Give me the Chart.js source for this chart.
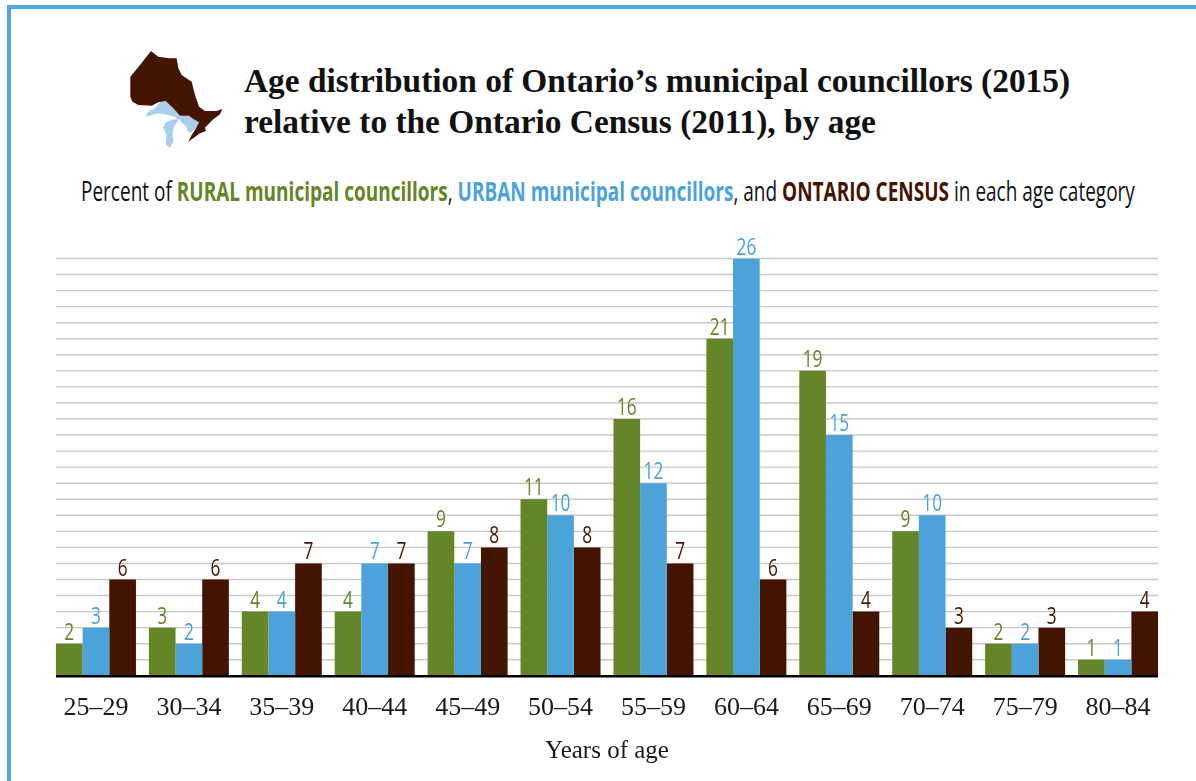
<!DOCTYPE html>
<html><head><meta charset="utf-8">
<script src="https://cdn.jsdelivr.net/npm/chart.js@4"></script>
<style>
html,body{margin:0;padding:0;background:#fff;overflow:hidden}
#wrap{position:relative;width:1196px;height:781px;overflow:hidden}
#frame{position:absolute;left:7px;top:5px;width:1189px;height:776px;border-left:4px solid #4fa6d8;border-top:4px solid #4fa6d8;box-sizing:border-box}
canvas{position:absolute;left:0;top:0}
#title{position:absolute;left:244px;top:60px;font:bold 33.4px/41px "Liberation Serif",serif;color:#111;white-space:nowrap}
#sub{position:absolute;left:81px;top:172px;font:700 27px/38px "Open Sans",sans-serif;color:#111;white-space:nowrap;transform-origin:0 0;transform:scaleX(.72)}
#sub .n{font-weight:400}
#map{position:absolute;left:125px;top:45px}
</style></head><body>
<div id="wrap">
<div id="frame"></div>
<svg id="map" width="105" height="105" viewBox="0 0 315 315">
<path fill="#a9cfec" d="M122 168 L145 190 L165 212 L192 212 L222 232 L212 250 L195 264 L187 258 L185 245 L172 234 L160 222 L140 224 L122 232 L114 248 L124 268 L122 298 L134 308 L145 292 L143 262 L147 245 L160 226 L150 216 L130 210 L100 205 L60 215 L70 200 L90 190 L105 172Z"/>
<path fill="#431500" d="M78 18 L100 35 L133 40 L155 40 L160 70 L170 90 L200 110 L210 150 L222 185 L240 198 L275 198 L292 192 L285 208 L262 225 L240 248 L243 258 L225 265 L190 290 L200 270 L210 255 L222 232 L205 222 L192 212 L165 212 L145 190 L122 168 L100 172 L80 182 L40 180 L22 170 L16 155 L16 95 L45 60Z"/>
</svg>
<div id="title">Age distribution of Ontario’s municipal councillors (2015)<br>relative to the Ontario Census (2011), by age</div>
<div id="sub"><span class="n">Percent of </span><span style="color:#668428">RURAL municipal councillors</span><span class="n">, </span><span style="color:#4ba3d9">URBAN municipal councillors</span><span class="n">, and </span><span style="color:#431500">ONTARIO CENSUS</span><span class="n"> in each age category</span></div>
<canvas id="c" width="1196" height="781"></canvas>
</div>
<script>
const categories=["25–29","30–34","35–39","40–44","45–49","50–54","55–59","60–64","65–69","70–74","75–79","80–84"];
const rural=[2,3,4,4,9,11,16,21,19,9,2,1];
const urban=[3,2,4,7,7,10,12,26,15,10,2,1];
const census=[6,6,7,7,8,8,7,6,4,3,3,4];
const GREEN="#668428",BLUE="#4ba3d9",BROWN="#431500";
const sub=document.getElementById("sub");
sub.style.transform="scaleX("+(1054/sub.offsetWidth)+")";
const backdrop={id:"backdrop",beforeDatasetsDraw(ch){
  const y=ch.scales.y,g=ch.ctx;
  const first=ch.getDatasetMeta(0).data[0],last=ch.getDatasetMeta(2).data[11];
  const l=first.x-first.width/2,r=last.x+last.width/2;
  g.save();g.strokeStyle="#c9c9c9";g.lineWidth=1.4;
  y.ticks.forEach(t=>{if(t.value===0)return;const p=y.getPixelForValue(t.value);g.beginPath();g.moveTo(l,p);g.lineTo(r,p);g.stroke();});
  g.restore();
},afterDatasetsDraw(ch){
  const y=ch.scales.y,g=ch.ctx;
  const first=ch.getDatasetMeta(0).data[0],last=ch.getDatasetMeta(2).data[11];
  const l=first.x-first.width/2,r=last.x+last.width/2,p=y.getPixelForValue(0);
  g.save();g.strokeStyle="#000";g.lineWidth=2.5;g.beginPath();g.moveTo(l,p+0.5);g.lineTo(r,p+0.5);g.stroke();
  g.font='24px "Open Sans",sans-serif';g.textAlign="center";g.textBaseline="alphabetic";
  ch.data.datasets.forEach((d,i)=>{
    g.fillStyle=d.backgroundColor;
    ch.getDatasetMeta(i).data.forEach((b,j)=>{
      g.save();g.translate(b.x,b.y-4);g.scale(.72,1);g.fillText(String(d.data[j]),0,0);g.restore();
    });
  });
  g.restore();
}};
new Chart(document.getElementById("c"),{
  type:"bar",
  data:{labels:categories,datasets:[
    {label:"Rural municipal councillors",data:rural,backgroundColor:GREEN},
    {label:"Urban municipal councillors",data:urban,backgroundColor:BLUE},
    {label:"Ontario Census",data:census,backgroundColor:BROWN}]},
  options:{
    responsive:false,animation:false,devicePixelRatio:1,
    layout:{padding:{left:49.5,right:31.5,top:258.5,bottom:15}},
    plugins:{legend:{display:false},title:{display:false},tooltip:{enabled:false}},
    datasets:{bar:{barPercentage:1,categoryPercentage:0.861,borderWidth:0}},
    scales:{
      x:{grid:{display:false},border:{display:false},
        ticks:{color:"#1a1a1a",padding:9,maxRotation:0,autoSkip:false,font:{family:'"Liberation Serif",serif',size:26}},
        title:{display:true,text:"Years of age",color:"#1a1a1a",padding:{top:3,bottom:0},font:{family:'"Liberation Serif",serif',size:25}}},
      y:{display:false,min:0,max:26,ticks:{stepSize:1,autoSkip:false,maxTicksLimit:40}}
    }
  },
  plugins:[backdrop]
});
</script>
</body></html>
